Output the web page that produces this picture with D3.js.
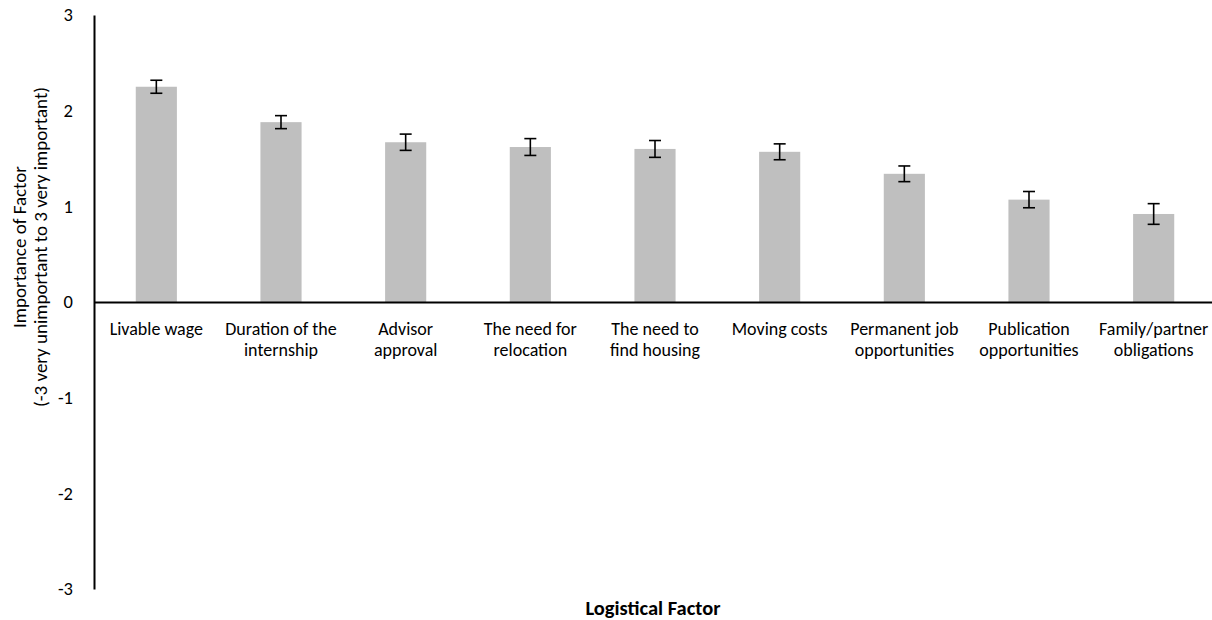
<!DOCTYPE html>
<html>
<head>
<meta charset="utf-8">
<script src="https://cdn.jsdelivr.net/npm/d3@7"></script>
<style>
  html, body { margin: 0; padding: 0; background: #fff; }
  svg { display: block; }
  text { font-family: Carlito, Calibri, "Open Sans", sans-serif; fill: #000; }
</style>
</head>
<body>
<svg id="chart" width="1212" height="620"></svg>
<script>
// Logistical factors rated by respondents ("\n" marks the label line break)
const categories = [
  "Livable wage",
  "Duration of the\ninternship",
  "Advisor\napproval",
  "The need for\nrelocation",
  "The need to\nfind housing",
  "Moving costs",
  "Permanent job\nopportunities",
  "Publication\nopportunities",
  "Family/partner\nobligations"
];
// Mean importance rating (-3 to 3)
const means = [2.25, 1.88, 1.67, 1.62, 1.60, 1.57, 1.34, 1.07, 0.92];
// Standard error of each mean
const errors = [0.068, 0.068, 0.085, 0.088, 0.088, 0.083, 0.082, 0.085, 0.108];
const yTicks = [-3, -2, -1, 0, 1, 2, 3];

const svg = d3.select("#chart");
const margin = { left: 94, right: -4, top: 15, bottom: 31 };
const W = 1212, H = 620;
const labelSize = 18;

const x = d3.scaleBand()
  .domain(categories)
  .range([margin.left, W - margin.right])
  .paddingInner(0.67)
  .paddingOuter(0.335);

const y = d3.scaleLinear()
  .domain([-3, 3])
  .range([H - margin.bottom, margin.top]);

// Bars
svg.append("g")
  .selectAll("rect")
  .data(categories)
  .join("rect")
  .attr("x", d => x(d))
  .attr("width", x.bandwidth())
  .attr("y", (d, i) => y(means[i]))
  .attr("height", (d, i) => y(0) - y(means[i]))
  .attr("fill", "#bfbfbf");

// Error bars
const eb = svg.append("g")
  .attr("stroke", "#000")
  .attr("stroke-width", 1.6)
  .selectAll("g")
  .data(categories)
  .join("g")
  .attr("transform", d => `translate(${x(d) + x.bandwidth() / 2},0)`);
eb.append("line")
  .attr("y1", (d, i) => y(means[i] + errors[i]))
  .attr("y2", (d, i) => y(means[i] - errors[i]));
eb.append("line")
  .attr("x1", -6).attr("x2", 6)
  .attr("y1", (d, i) => y(means[i] + errors[i]))
  .attr("y2", (d, i) => y(means[i] + errors[i]));
eb.append("line")
  .attr("x1", -6).attr("x2", 6)
  .attr("y1", (d, i) => y(means[i] - errors[i]))
  .attr("y2", (d, i) => y(means[i] - errors[i]));

// Y axis
const yAxis = svg.append("g")
  .attr("transform", `translate(${margin.left},0)`)
  .call(d3.axisLeft(y).tickValues(yTicks).tickSize(0).tickPadding(21).tickFormat(d => String(d)));
yAxis.select(".domain").attr("stroke", "#000").attr("stroke-width", 2);
yAxis.selectAll("text").attr("font-size", 18.5).style("font-family", null);

// X axis along zero, category labels below it
const xAxis = svg.append("g")
  .attr("transform", `translate(0,${y(0)})`)
  .call(d3.axisBottom(x).tickSize(0).tickPadding(0));
xAxis.select(".domain").attr("stroke", "#000").attr("stroke-width", 2);
xAxis.selectAll("text")
  .attr("font-size", labelSize)
  .style("font-family", null)
  .attr("y", 0)
  .attr("dy", null)
  .text(null)
  .each(function (d) {
    d3.select(this).selectAll("tspan")
      .data(d.split("\n"))
      .join("tspan")
      .attr("x", 0)
      .attr("y", (s, k) => 33 + k * 20.5)
      .text(s => s);
  });

// Axis titles
svg.append("text")
  .attr("transform", `translate(26,247) rotate(-90)`)
  .attr("text-anchor", "middle")
  .attr("font-size", 19)
  .text("Importance of Factor");
svg.append("text")
  .attr("transform", `translate(47,247) rotate(-90)`)
  .attr("text-anchor", "middle")
  .attr("font-size", 19)
  .text("(-3 very unimportant to 3 very important)");

svg.append("text")
  .attr("x", (margin.left + W - margin.right) / 2 - 2)
  .attr("y", 615)
  .attr("text-anchor", "middle")
  .attr("font-size", 20.5)
  .attr("font-weight", "bold")
  .text("Logistical Factor");
</script>
</body>
</html>
